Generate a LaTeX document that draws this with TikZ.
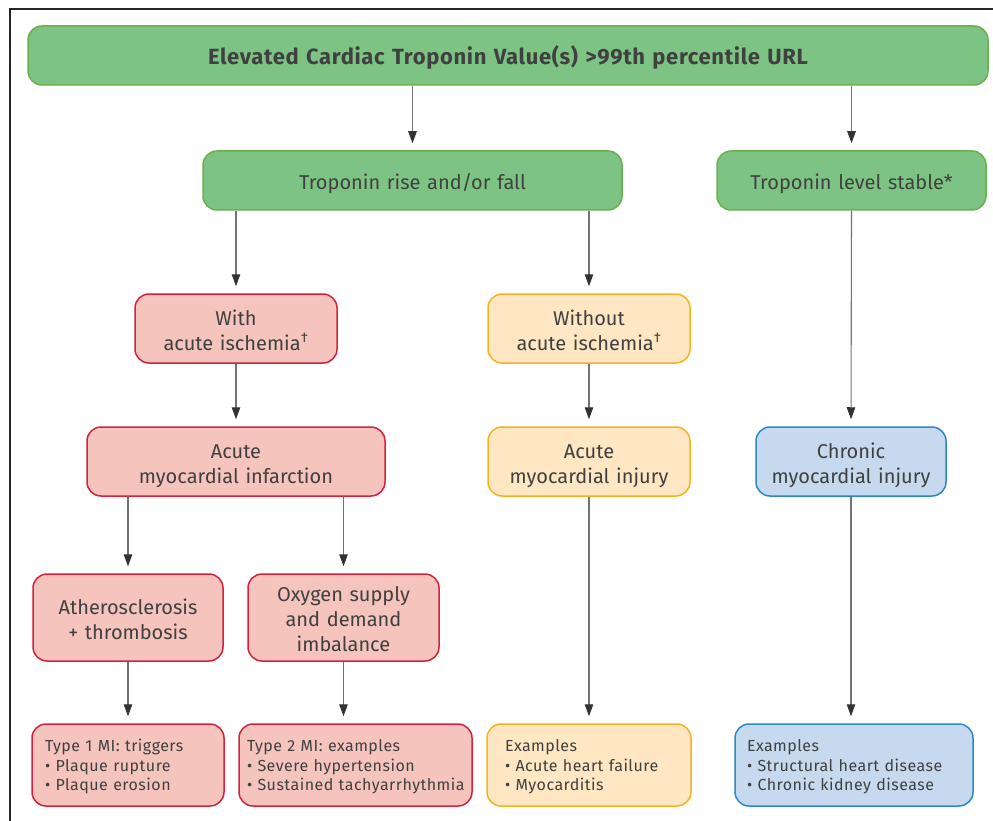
\documentclass[tikz,border=0pt]{standalone}
\usepackage{fontspec}
\setmainfont{Fira Sans}
\usetikzlibrary{arrows.meta}
\definecolor{txt}{HTML}{404040}
\definecolor{gfill}{HTML}{7DC383}
\definecolor{gline}{HTML}{6AB04C}
\definecolor{rfill}{HTML}{F4C4BD}
\definecolor{rline}{HTML}{D6203F}
\definecolor{ofill}{HTML}{FEE7C2}
\definecolor{oline}{HTML}{F7B21E}
\definecolor{bfill}{HTML}{C6D9EE}
\definecolor{bline}{HTML}{2A88C8}
\tikzset{
  box/.style={rounded corners=14pt, line width=1.5pt, inner ysep=0pt, align=center, text=txt,
    font=\fontsize{20}{25}\selectfont,
    execute at begin node={\rule{0pt}{23pt}},
    execute at end node={\rule[-5pt]{0pt}{5pt}}},
  bw/.style={minimum width=#1, text width=#1-10pt, inner xsep=5pt},
  oneline/.style={execute at begin node={\rule{0pt}{20pt}}},
  gbox/.style={box, fill=gfill, draw=gline, oneline},
  rbox/.style={box, fill=rfill, draw=rline},
  obox/.style={box, fill=ofill, draw=oline},
  bbox/.style={box, fill=bfill, draw=bline},
  small/.style={font=\fontsize{16}{19.5}\selectfont\addfontfeatures{LetterSpace=3}, align=left,
    execute at begin node={\rule{0pt}{8pt}},
    execute at end node={\rule[-11pt]{0pt}{11pt}}},
  arr/.style={draw=black!55, line width=1.1pt, -{Triangle[length=12pt,width=8.5pt,color=black!80]}, shorten >=7pt},
}
\begin{document}
\begin{tikzpicture}[x=1pt,y=-1pt]
\useasboundingbox (0,0) rectangle (993,821);
\draw[line width=2.5pt, black!85] (10,821) -- (10,9) -- (993,9);
% row 1
\node[gbox, bw=960pt, minimum height=59pt,
      font=\fontsize{22}{25}\selectfont\bfseries\addfontfeatures{LetterSpace=3},
      execute at begin node={\rule{0pt}{24pt}}] (top) at (508,55.5)
  {Elevated Cardiac Troponin Value(s) >99th percentile URL};
% row 2
\node[gbox, bw=419pt, minimum height=59pt] (rise) at (412.5,180.5) {Troponin rise and/or fall};
\node[gbox, bw=269pt, minimum height=59pt] (stable) at (851.5,180.5) {Troponin level stable*};
% row 3
\node[rbox, bw=202pt, minimum height=69pt] (with) at (236,328.5) {With\\acute ischemia\textsuperscript{†}};
\node[obox, bw=202pt, minimum height=69pt] (without) at (589,328.5) {Without\\acute ischemia\textsuperscript{†}};
% row 4
\node[rbox, bw=298pt, minimum height=69pt] (ami) at (236,461.5) {Acute\\myocardial infarction};
\node[obox, bw=202pt, minimum height=69pt] (injury) at (589,461.5) {Acute\\myocardial injury};
\node[bbox, bw=190pt, minimum height=69pt] (chronic) at (851,461.5) {Chronic\\myocardial injury};
% row 5
\node[rbox, bw=190pt, minimum height=87pt] (athero) at (128,617.5) {Atherosclerosis\\+ thrombosis};
\node[rbox, bw=191pt, minimum height=87pt] (oxy) at (343.5,617.5) {Oxygen supply\\and demand\\imbalance};
% row 6
\node[rbox, small, minimum height=82pt, text width=166pt, inner xsep=13pt] (type1) at (128,765)
  {Type 1 MI: triggers\\\textbullet\ Plaque rupture\\\textbullet\ Plaque erosion};
\node[rbox, small, minimum height=82pt, text width=217pt, inner xsep=8pt] (type2) at (355.5,765)
  {Type 2 MI: examples\\\textbullet\ Severe hypertension\\\textbullet\ Sustained tachyarrhythmia};
\node[obox, small, minimum height=82pt, text width=168pt, inner xsep=18pt] (oex) at (589,765)
  {Examples\\\textbullet\ Acute heart failure\\\textbullet\ Myocarditis};
\node[bbox, small, minimum height=82pt, text width=214pt, inner xsep=12pt] (bex) at (854,765)
  {Examples\\\textbullet\ Structural heart disease\\\textbullet\ Chronic kidney disease};
% connectors
\draw[arr] (top.south -| rise) -- (rise.north);
\draw[arr] (top.south -| stable) -- (stable.north);
\draw[arr] (rise.south -| with) -- (with.north);
\draw[arr] (rise.south -| without) -- (without.north);
\draw[arr] (stable.south) -- (chronic.north);
\draw[arr] (with.south) -- (ami.north);
\draw[arr] (without.south) -- (injury.north);
\draw[arr] (ami.south -| athero) -- (athero.north);
\draw[arr] (ami.south -| oxy) -- (oxy.north);
\draw[arr] (athero.south) -- (type1.north);
\draw[arr] (oxy.south) -- (oxy.south |- type2.north);
\draw[arr] (injury.south) -- (oex.north);
\draw[arr] (chronic.south) -- (chronic.south |- bex.north);
\end{tikzpicture}
\end{document}
